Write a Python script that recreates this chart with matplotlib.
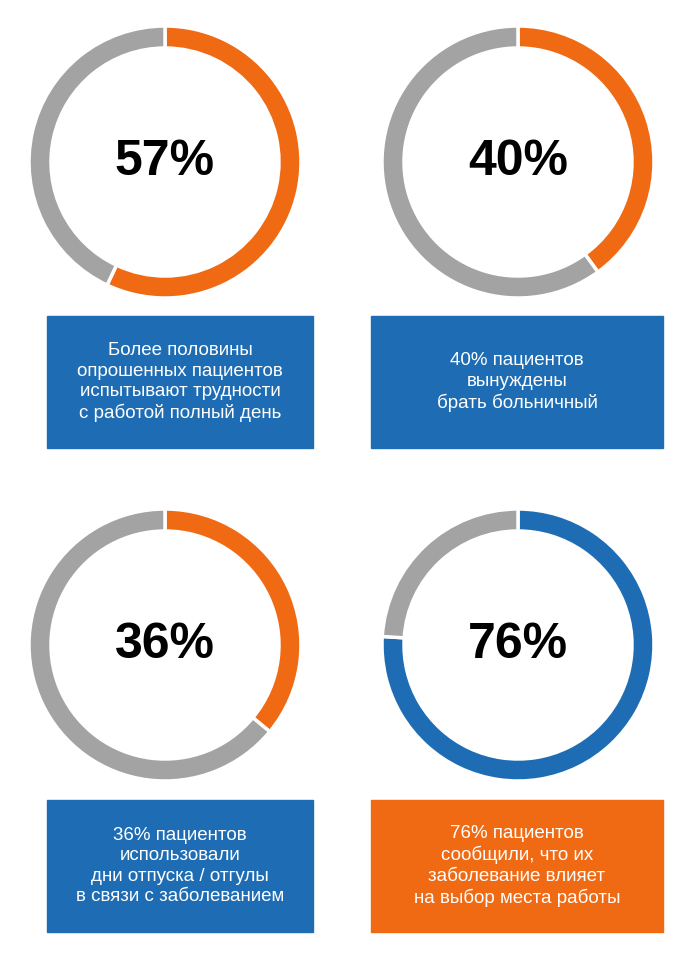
import matplotlib
matplotlib.use("Agg")
import matplotlib.pyplot as plt
from matplotlib.patches import Rectangle

percents = [57, 40, 36, 76]
captions = [
    "Более половины\nопрошенных пациентов\nиспытывают трудности\nс работой полный день",
    "40% пациентов\nвынуждены\nбрать больничный",
    "36% пациентов\nиспользовали\nдни отпуска / отгулы\nв связи с заболеванием",
    "76% пациентов\nсообщили, что их\nзаболевание влияет\nна выбор места работы",
]
ORANGE = "#F06A14"
GRAY = "#A3A3A3"
BLUE = "#1E6DB4"
main_colors = [ORANGE, ORANGE, ORANGE, BLUE]
box_colors = [BLUE, BLUE, BLUE, ORANGE]

W, H = 681, 957
fig = plt.figure(figsize=(W/100, H/100), dpi=100)
ax = fig.add_axes([0, 0, 1, 1])

centers = [(165, 162), (518, 162), (165, 645), (518, 645)]
boxes = [(47, 316, 266, 132), (371, 316, 292, 132), (47, 800, 266, 132), (371, 800, 292, 132)]
R, wid = 136, 22
for i, p in enumerate(percents):
    cx, cy = centers[i]
    ax.pie([p, 100 - p], colors=[main_colors[i], GRAY], center=(cx, H - cy), radius=R,
           startangle=90, counterclock=False, frame=True,
           wedgeprops=dict(width=wid, edgecolor="white", linewidth=2.5))
    ax.text(cx, H - cy, f"{p}%", ha="center", va="center", fontsize=36,
            fontweight="bold", family="Liberation Sans", color="black")
    bx, by, bw, bh = boxes[i]
    ax.add_patch(Rectangle((bx, H - by - bh), bw, bh, color=box_colors[i]))
    ax.text(bx + bw/2, H - by - bh/2, captions[i], ha="center", va="center",
            fontsize=13.5, color="white", family="Liberation Sans", linespacing=1.25)
ax.set_xlim(0, W); ax.set_ylim(0, H); ax.set_aspect("equal"); ax.axis("off")
fig.savefig("out.png", dpi=100)
